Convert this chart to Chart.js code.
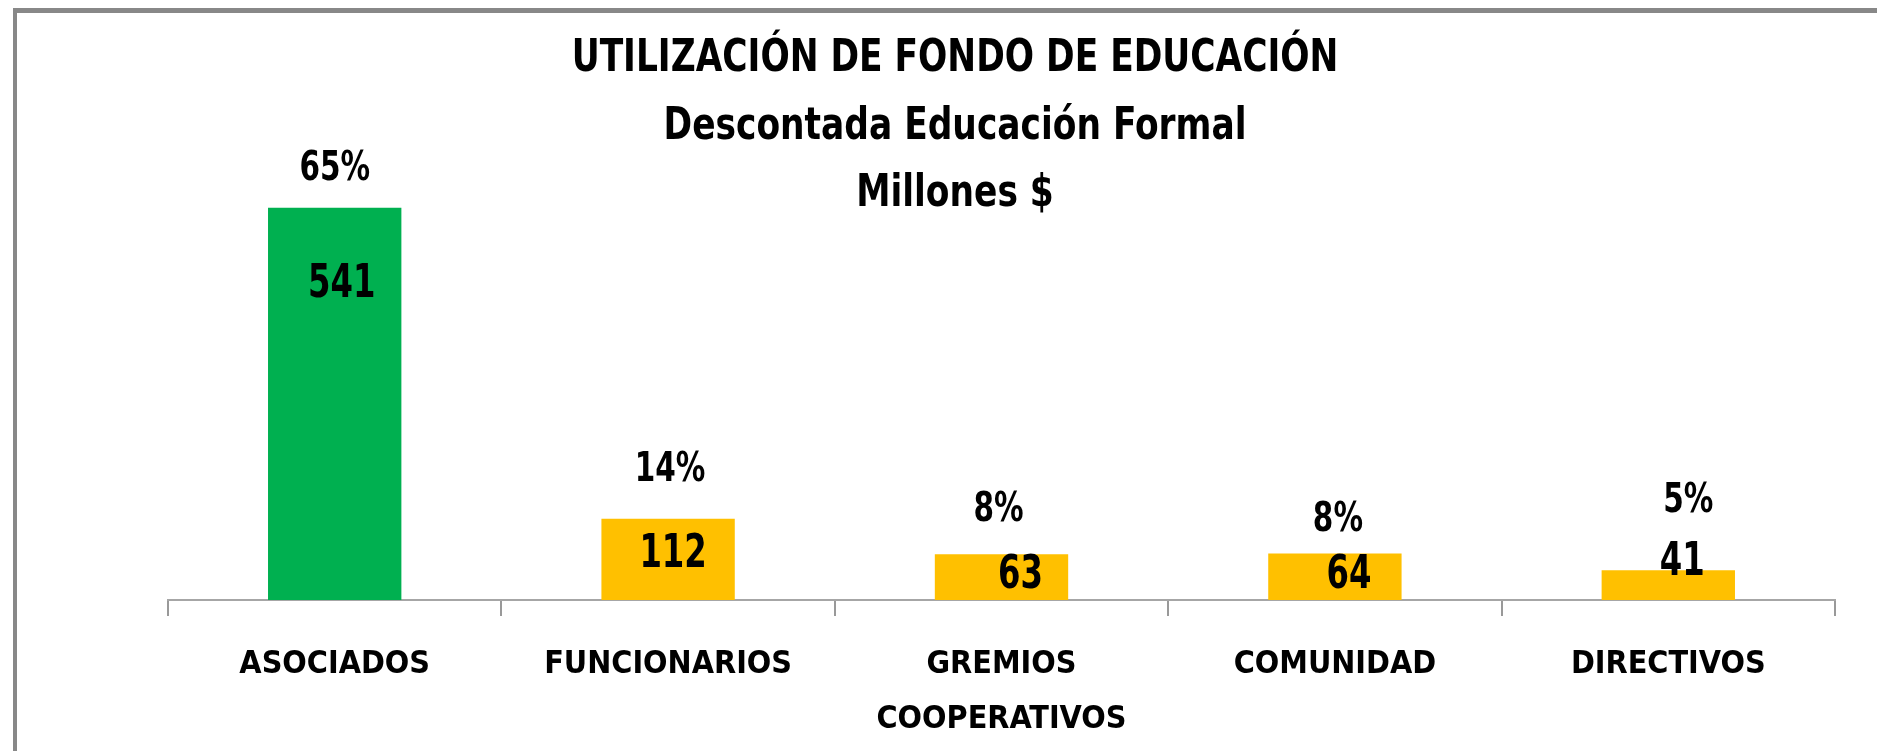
<!DOCTYPE html>
<html>
<head>
<meta charset="utf-8">
<script src="https://cdn.jsdelivr.net/npm/chart.js@4.4.1/dist/chart.umd.min.js"></script>
<style>
  html, body { margin: 0; padding: 0; background: #fff; overflow: hidden; }
  #frame { position: absolute; left: 13px; top: 8px; width: 1900px; height: 800px;
           border-left: 4px solid #888; border-top: 5px solid #888; }
  #wrap { position: absolute; left: 0; top: 0; width: 1877px; height: 751px; }
</style>
</head>
<body>
<div id="frame"></div>
<div id="wrap"><canvas id="chart"></canvas></div>
<script>
// data
const categories = [['ASOCIADOS'], ['FUNCIONARIOS'], ['GREMIOS', 'COOPERATIVOS'], ['COMUNIDAD'], ['DIRECTIVOS']];
const amounts = [541, 112, 63, 64, 41];
const shares = ['65%', '14%', '8%', '8%', '5%'];
const titleLines = ['UTILIZACIÓN DE FONDO DE EDUCACIÓN', 'Descontada Educación Formal', 'Millones $'];

// look
const barColors = ['#00B050', '#FFC000', '#FFC000', '#FFC000', '#FFC000'];
const FONT = "'DejaVu Sans Condensed', 'Liberation Sans', sans-serif";
// label nudges (dx, dy) relative to the top centre of each bar, as placed in the original
const shareShift = [[0, 38], [2, 48], [-3, 44], [3, 33], [20, 69]];
const amountShift = [[7, 77], [5, 36], [19, 22], [14, 22], [14, -7]];

Chart.defaults.font.family = FONT;

// the original uses a narrow face; squeeze the text horizontally
function squeezed(ctx, text, x, y, sx) {
    ctx.save();
    ctx.translate(x, y);
    ctx.scale(sx, 1);
    ctx.fillText(text, 0, 0);
    ctx.restore();
}

const barLabels = {
    id: 'barLabels',
    afterDatasetsDraw(chart) {
        const ctx = chart.ctx;
        const bars = chart.getDatasetMeta(0).data;
        ctx.save();
        ctx.fillStyle = '#000';
        ctx.textAlign = 'center';
        ctx.textBaseline = 'middle';
        bars.forEach((bar, i) => {
            ctx.font = 'bold 40px ' + FONT;
            squeezed(ctx, shares[i], bar.x + shareShift[i][0], bar.y - shareShift[i][1], 0.82);
            ctx.font = 'bold 46px ' + FONT;
            squeezed(ctx, String(amounts[i]), bar.x + amountShift[i][0], bar.y + amountShift[i][1], 0.78);
        });
        // title overlaps the plot area in the original, so it is drawn here
        ctx.font = 'bold 44px ' + FONT;
        titleLines.forEach((t, i) => squeezed(ctx, t, 955, 60 + i * 67.5, 0.87));
        ctx.restore();
    }
};

new Chart(document.getElementById('chart'), {
    type: 'bar',
    data: {
        labels: categories,
        datasets: [{
            data: amounts,
            backgroundColor: barColors,
            borderWidth: 0,
            categoryPercentage: 0.8,
            barPercentage: 0.5
        }]
    },
    options: {
        responsive: true,
        maintainAspectRatio: false,
        animation: false,
        layout: { padding: { top: 165, left: 168, right: 42, bottom: 0 } },
        plugins: {
            legend: { display: false },
            tooltip: { enabled: false },
            title: { display: false }
        },
        scales: {
            x: {
                grid: { offset: true, drawOnChartArea: false, drawTicks: true, tickLength: 16, color: '#999', lineWidth: 2 },
                border: { color: '#a6a6a6', width: 2 },
                ticks: {
                    color: '#000',
                    font: { size: 32, weight: 'bold', lineHeight: 1.72 },
                    padding: 21,
                    maxRotation: 0,
                    autoSkip: false
                },
                afterFit(axis) { axis.height = 151; }
            },
            y: { display: false, min: 0, max: 600 }
        }
    },
    plugins: [barLabels]
});
</script>
</body>
</html>
